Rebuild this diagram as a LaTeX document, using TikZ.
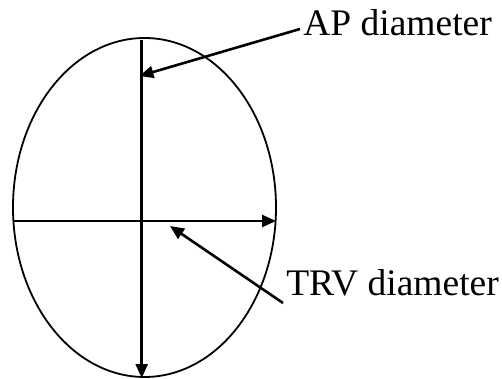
\documentclass[tikz,border=0pt]{standalone}
\usepackage{fontspec}
\setmainfont{Liberation Serif}
\usetikzlibrary{arrows.meta,calc}
\begin{document}
\begin{tikzpicture}[x=1pt, y=-1pt, >={Triangle[length=14pt,width=12pt]}, line width=2.6pt,
    lbl/.style={font=\fontsize{37.5}{44}\selectfont, inner sep=0pt, anchor=base west}]
    \useasboundingbox (0,0) rectangle (502,379);
    % Outline
    \draw[line width=1.8pt] (144.5,207.5) ellipse [x radius=131.5, y radius=169.5];
    % Diameters
    \coordinate (top) at (141.7,40);
    \coordinate (bot) at (141.7,378);
    \coordinate (lft) at (13,221);
    \coordinate (rgt) at (276,221);
    \draw[->] (top) -- (bot);
    \draw[->] (lft) -- (rgt);
    % Labels
    \node[lbl] (ap) at (302,36) {AP diameter};
    \node[lbl] (trv) at (285,295) {TRV diameter};
    % Pointers
    \coordinate (aptip) at (139.5,76);
    \coordinate (trvtip) at (170,226);
    \draw[->] ($(ap.base west)+(-2,-7)$) -- (aptip);
    \draw[->] ($(trv.base west)+(-2,8)$) -- (trvtip);
\end{tikzpicture}
\end{document}
